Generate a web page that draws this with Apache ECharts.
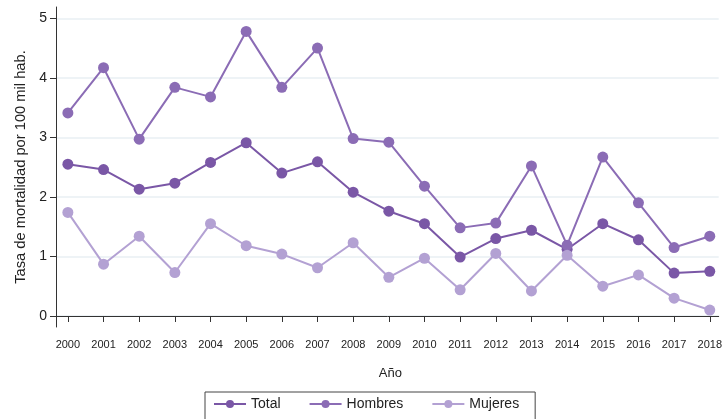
<!DOCTYPE html>
<html>
<head>
<meta charset="utf-8">
<script src="https://cdn.jsdelivr.net/npm/echarts@6/dist/echarts.min.js"></script>
<style>html,body{margin:0;padding:0;background:#fff}#c{width:725px;height:419px}</style>
</head>
<body>
<div id="c"></div>
<script>
const years = [2000,2001,2002,2003,2004,2005,2006,2007,2008,2009,2010,2011,2012,2013,2014,2015,2016,2017,2018];
const total   = [2.55,2.46,2.13,2.23,2.58,2.91,2.40,2.59,2.08,1.76,1.55,0.99,1.30,1.44,1.12,1.55,1.28,0.72,0.75];
const hombres = [3.41,4.17,2.97,3.84,3.68,4.78,3.84,4.50,2.98,2.92,2.18,1.48,1.56,2.52,1.19,2.67,1.90,1.15,1.34];
const mujeres = [1.74,0.87,1.34,0.73,1.55,1.18,1.04,0.81,1.23,0.65,0.97,0.44,1.05,0.42,1.02,0.50,0.69,0.30,0.10];
const yTicks = [0,1,2,3,4,5];
const seriesNames = ['Total','Hombres','Mujeres'];
const colors = ['#7a57a6','#8b6cb5','#b3a1d3'];

const chart = echarts.init(document.getElementById('c'), null, {renderer:'canvas'});
const font = 'Liberation Sans, Arial, sans-serif';
function mk(name, vals, color){
  return {
    name, type:'line', data: years.map((y,i)=>[y, vals[i]]),
    symbol:'circle', symbolSize:11, showSymbol:true,
    lineStyle:{color, width:2}, itemStyle:{color},
    emphasis:{disabled:true}, animation:false
  };
}
chart.setOption({
  animation:false,
  backgroundColor:'#fff',
  textStyle:{fontFamily:font},
  grid:{left:56, top:7, right:0, bottom:92, containLabel:false},
  xAxis:{
    type:'value', min:1999.667, max:2018.25,
    name:'Año', nameLocation:'middle', nameGap:40,
    nameTextStyle:{fontSize:13, color:'#222', fontFamily:font, padding:[0,0,0,6]},
    axisLine:{show:true, lineStyle:{color:'#333', width:1}},
    axisTick:{show:true, length:6, customValues:years, lineStyle:{color:'#333'}},
    axisLabel:{customValues:years, fontSize:11, color:'#222', margin:12, formatter:v=>String(v), fontFamily:font},
    splitLine:{show:false}
  },
  yAxis:{
    type:'value', min:-0.185, max:5.19,
    name:'Tasa de mortalidad por 100 mil hab.', nameLocation:'middle', nameGap:26,
    nameTextStyle:{fontSize:14.7, color:'#222', fontFamily:font},
    axisLine:{show:true, lineStyle:{color:'#333', width:1}},
    axisTick:{show:true, length:6, customValues:yTicks, lineStyle:{color:'#333'}},
    axisLabel:{customValues:yTicks, fontSize:14, color:'#222', margin:9, fontFamily:font},
    splitLine:{show:true, lineStyle:{color:'#e8eff3', width:1.5}}
  },
  legend:{
    data:seriesNames, left:205, top:392,
    itemWidth:32, itemHeight:10, itemGap:28,
    padding:[5,16,20,8],
    borderColor:'#444', borderWidth:1,
    textStyle:{fontSize:14, color:'#222', fontFamily:font}
  },
  series:[mk('Total',total,colors[0]), mk('Hombres',hombres,colors[1]), mk('Mujeres',mujeres,colors[2])]
});
</script>
</body>
</html>
